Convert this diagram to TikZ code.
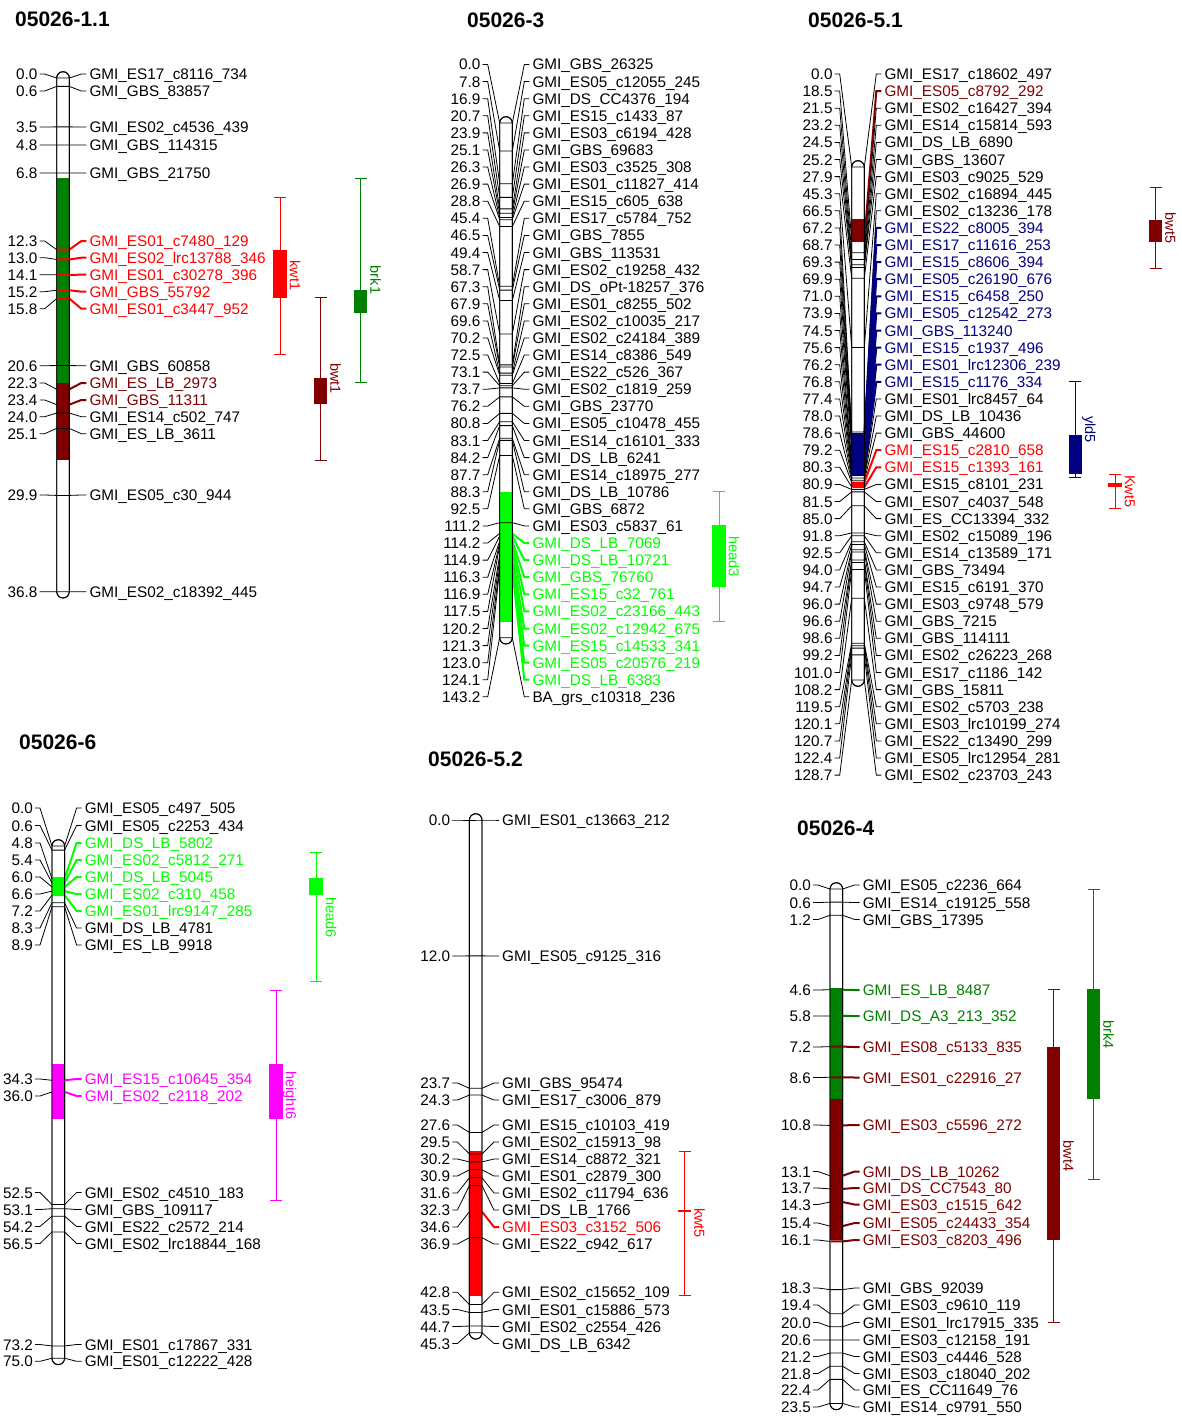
\documentclass[tikz,border=0pt]{standalone}
\usepackage{fontspec}
\setmainfont{Liberation Sans}

\definecolor{qred}{RGB}{255,0,0}
\definecolor{qdkred}{RGB}{128,0,0}
\definecolor{qdkgreen}{RGB}{0,128,0}
\definecolor{qlime}{RGB}{0,255,0}
\definecolor{qnavy}{RGB}{0,0,128}
\definecolor{qmag}{RGB}{255,0,255}

\newcommand\mkfont{\fontsize{15.3}{17}\selectfont}
\newcommand\ttlfont{\fontsize{21}{24}\selectfont\bfseries}
\newcommand\qfont{\fontsize{14.5}{16}\selectfont}
\def\blackname{black}

\newcommand\chrom[3]{\filldraw[fill=white,barline] ({#1-6.3},{#2-6.3}) rectangle ({#1+6.3},{#3+6.3});}
\newcommand\chromseg[4]{\fill[#4] ({#1-6.3},#2) rectangle ({#1+6.3},#3);}
\newcommand\chromline[3]{\draw[barline] ({#1-6.3},{#2-6.3}) rectangle ({#1+6.3},{#3+6.3});}

\newcommand\markers[5]{%
  \foreach \cm/\ly/\nm/\cl [count=\i] in {#4}{%
    \pgfmathsetmacro\ya{#2+#3*\cm}%
    \node[cmlab] (#5p\i) at ({#1-25.3},\ly) {\cm};
    \node[mklab,text=\cl] (#5m\i) at ({#1+26.3},\ly) {\nm};
    \coordinate (#5l\i) at ({#1-6.3},\ya);
    \coordinate (#5r\i) at ({#1+6.3},\ya);
    \draw[mkline] ([xshift=2pt]#5p\i.east) -- ++(5,0) -- (#5l\i);
    \ifx\cl\blackname
      \draw[mkline] (#5l\i) -- (#5r\i) -- ([xshift=-8pt]#5m\i.west) -- ([xshift=-3pt]#5m\i.west);
    \else
      \draw[hotline,\cl] ([xshift=1pt]#5l\i) -- (#5r\i) -- ([xshift=-8pt]#5m\i.west) -- ([xshift=-3pt]#5m\i.west);
    \fi
  }}

\newcommand\qtl[7]{%
  \draw[qline,#6] ({#1-6},#2) -- ({#1+6},#2) (#1,#2) -- (#1,#3) ({#1-6},#3) -- ({#1+6},#3);
  \fill[#6] ({#1-6.7},#4) rectangle ({#1+6.7},#5);
  \node[qlab,text=#6] (q-#7) at ({#1+9.7},{(#2+#3)/2}) {#7};}

\begin{document}
\begin{tikzpicture}[x=1pt,y=-1pt,
  barline/.style={draw=black,line width=0.9pt,rounded corners=6.3pt},
  mkline/.style={black,line width=0.8pt},
  hotline/.style={line width=2pt},
  qline/.style={line width=0.9pt},
  cmlab/.style={anchor=east,inner sep=0pt,text height=11pt,text depth=0pt,font=\mkfont},
  mklab/.style={anchor=west,inner sep=0pt,text height=11pt,text depth=0pt,font=\mkfont},
  qlab/.style={rotate=-90,anchor=south,inner sep=0pt,text height=10.4pt,text depth=0pt,font=\qfont},
  ttl/.style={anchor=west,inner sep=0pt,text height=15pt,text depth=0pt,font=\ttlfont}]
  \fill[white] (0,0) rectangle (1182,1418);
  \useasboundingbox (0,0) rectangle (1182,1418);

  \node[ttl] (t11) at (15,19) {05026-1.1};
  \chrom{63}{78}{591.7}
  \chromseg{63}{178}{382.7}{qdkgreen}
  \chromseg{63}{382.7}{460}{qdkred}
  \markers{63}{78}{13.96}{0.0/74/GMI\_ES17\_c8116\_734/black,
    0.6/91/GMI\_GBS\_83857/black,
    3.5/127/GMI\_ES02\_c4536\_439/black,
    4.8/145/GMI\_GBS\_114315/black,
    6.8/173/GMI\_GBS\_21750/black,
    12.3/241/GMI\_ES01\_c7480\_129/qred,
    13.0/257.7/GMI\_ES02\_lrc13788\_346/qred,
    14.1/274.7/GMI\_ES01\_c30278\_396/qred,
    15.2/291.7/GMI\_GBS\_55792/qred,
    15.8/308.7/GMI\_ES01\_c3447\_952/qred,
    20.6/365.7/GMI\_GBS\_60858/black,
    22.3/383/GMI\_ES\_LB\_2973/qdkred,
    23.4/400/GMI\_GBS\_11311/qdkred,
    24.0/416.7/GMI\_ES14\_c502\_747/black,
    25.1/433.7/GMI\_ES\_LB\_3611/black,
    29.9/495/GMI\_ES05\_c30\_944/black,
    36.8/591.7/GMI\_ES02\_c18392\_445/black}{ma}
  \chromline{63}{78}{591.7}
  \qtl{280}{197}{354}{250}{298}{qred}{kwt1}
  \qtl{320.5}{297}{460}{378}{404}{qdkred}{bwt1}
  \qtl{360.5}{178}{382}{290}{313}{qdkgreen}{brk1}

  \node[ttl] (t3) at (467,20) {05026-3};
  \chrom{506}{123}{637.7}
  \chromseg{506}{491.7}{621.7}{qlime}
  \markers{506}{123}{3.594}{0.0/64.5/GMI\_GBS\_26325/black,
    7.8/81.6/GMI\_ES05\_c12055\_245/black,
    16.9/98.7/GMI\_DS\_CC4376\_194/black,
    20.7/115.8/GMI\_ES15\_c1433\_87/black,
    23.9/132.9/GMI\_ES03\_c6194\_428/black,
    25.1/150.0/GMI\_GBS\_69683/black,
    26.3/167.0/GMI\_ES03\_c3525\_308/black,
    26.9/184.1/GMI\_ES01\_c11827\_414/black,
    28.8/201.2/GMI\_ES15\_c605\_638/black,
    45.4/218.3/GMI\_ES17\_c5784\_752/black,
    46.5/235.4/GMI\_GBS\_7855/black,
    49.4/252.5/GMI\_GBS\_113531/black,
    58.7/269.6/GMI\_ES02\_c19258\_432/black,
    67.3/286.7/GMI\_DS\_oPt-18257\_376/black,
    67.9/303.8/GMI\_ES01\_c8255\_502/black,
    69.6/320.9/GMI\_ES02\_c10035\_217/black,
    70.2/337.9/GMI\_ES02\_c24184\_389/black,
    72.5/355.0/GMI\_ES14\_c8386\_549/black,
    73.1/372.1/GMI\_ES22\_c526\_367/black,
    73.7/389.2/GMI\_ES02\_c1819\_259/black,
    76.2/406.3/GMI\_GBS\_23770/black,
    80.8/423.4/GMI\_ES05\_c10478\_455/black,
    83.1/440.5/GMI\_ES14\_c16101\_333/black,
    84.2/457.6/GMI\_DS\_LB\_6241/black,
    87.7/474.7/GMI\_ES14\_c18975\_277/black,
    88.3/491.8/GMI\_DS\_LB\_10786/black,
    92.5/508.8/GMI\_GBS\_6872/black,
    111.2/525.9/GMI\_ES03\_c5837\_61/black,
    114.2/543.0/GMI\_DS\_LB\_7069/qlime,
    114.9/560.1/GMI\_DS\_LB\_10721/qlime,
    116.3/577.2/GMI\_GBS\_76760/qlime,
    116.9/594.3/GMI\_ES15\_c32\_761/qlime,
    117.5/611.4/GMI\_ES02\_c23166\_443/qlime,
    120.2/628.5/GMI\_ES02\_c12942\_675/qlime,
    121.3/645.6/GMI\_ES15\_c14533\_341/qlime,
    123.0/662.7/GMI\_ES05\_c20576\_219/qlime,
    124.1/679.7/GMI\_DS\_LB\_6383/qlime,
    143.2/696.8/BA\_grs\_c10318\_236/black}{mb}
  \chromline{506}{123}{637.7}
  \qtl{719}{491.7}{621.7}{525}{586.7}{qlime}{head3}

  \node[ttl] (t51) at (808,20) {05026-5.1};
  \chrom{858}{167}{680}
  \chromseg{858}{219.3}{241.7}{qdkred}
  \chromseg{858}{433}{475}{qnavy}
  \chromseg{858}{481.7}{487.3}{qred}
  \markers{858}{167}{3.986}{0.0/74/GMI\_ES17\_c18602\_497/black,
    18.5/91.1/GMI\_ES05\_c8792\_292/qdkred,
    21.5/108.2/GMI\_ES02\_c16427\_394/black,
    23.2/125.3/GMI\_ES14\_c15814\_593/black,
    24.5/142.4/GMI\_DS\_LB\_6890/black,
    25.2/159.5/GMI\_GBS\_13607/black,
    27.9/176.6/GMI\_ES03\_c9025\_529/black,
    45.3/193.7/GMI\_ES02\_c16894\_445/black,
    66.5/210.8/GMI\_ES02\_c13236\_178/black,
    67.2/227.9/GMI\_ES22\_c8005\_394/qnavy,
    68.7/245.0/GMI\_ES17\_c11616\_253/qnavy,
    69.3/262.1/GMI\_ES15\_c8606\_394/qnavy,
    69.9/279.2/GMI\_ES05\_c26190\_676/qnavy,
    71.0/296.3/GMI\_ES15\_c6458\_250/qnavy,
    73.9/313.4/GMI\_ES05\_c12542\_273/qnavy,
    74.5/330.5/GMI\_GBS\_113240/qnavy,
    75.6/347.6/GMI\_ES15\_c1937\_496/qnavy,
    76.2/364.7/GMI\_ES01\_lrc12306\_239/qnavy,
    76.8/381.8/GMI\_ES15\_c1176\_334/qnavy,
    77.4/398.9/GMI\_ES01\_lrc8457\_64/black,
    78.0/416.0/GMI\_DS\_LB\_10436/black,
    78.6/433.1/GMI\_GBS\_44600/black,
    79.2/450.2/GMI\_ES15\_c2810\_658/qred,
    80.3/467.3/GMI\_ES15\_c1393\_161/qred,
    80.9/484.4/GMI\_ES15\_c8101\_231/black,
    81.5/501.5/GMI\_ES07\_c4037\_548/black,
    85.0/518.6/GMI\_ES\_CC13394\_332/black,
    91.8/535.7/GMI\_ES02\_c15089\_196/black,
    92.5/552.8/GMI\_ES14\_c13589\_171/black,
    94.0/569.9/GMI\_GBS\_73494/black,
    94.7/587.0/GMI\_ES15\_c6191\_370/black,
    96.0/604.1/GMI\_ES03\_c9748\_579/black,
    96.6/621.2/GMI\_GBS\_7215/black,
    98.6/638.3/GMI\_GBS\_114111/black,
    99.2/655.4/GMI\_ES02\_c26223\_268/black,
    101.0/672.5/GMI\_ES17\_c1186\_142/black,
    108.2/689.6/GMI\_GBS\_15811/black,
    119.5/706.7/GMI\_ES02\_c5703\_238/black,
    120.1/723.8/GMI\_ES03\_lrc10199\_274/black,
    120.7/740.9/GMI\_ES22\_c13490\_299/black,
    122.4/758.0/GMI\_ES05\_lrc12954\_281/black,
    128.7/775.1/GMI\_ES02\_c23703\_243/black}{mc}
  \chromline{858}{167}{680}
  \qtl{1155.5}{187.7}{268.3}{220}{241.7}{qdkred}{bwt5}
  \qtl{1075.3}{381.7}{477.7}{435}{474.3}{qnavy}{yld5}
  \qtl{1115}{474.3}{508.3}{482.7}{487.3}{qred}{Kwt5}

  \node[ttl] (t6) at (19,742) {05026-6};
  \chrom{58.3}{846}{1358.3}
  \chromseg{58.3}{877.3}{894.3}{qlime}
  \chromseg{58.3}{1064}{1119}{qmag}
  \markers{58.3}{846}{6.83}{0.0/808/GMI\_ES05\_c497\_505/black,
    0.6/825.5/GMI\_ES05\_c2253\_434/black,
    4.8/843/GMI\_DS\_LB\_5802/qlime,
    5.4/860/GMI\_ES02\_c5812\_271/qlime,
    6.0/877/GMI\_DS\_LB\_5045/qlime,
    6.6/894/GMI\_ES02\_c310\_458/qlime,
    7.2/911/GMI\_ES01\_lrc9147\_285/qlime,
    8.3/928/GMI\_DS\_LB\_4781/black,
    8.9/945/GMI\_ES\_LB\_9918/black,
    34.3/1079/GMI\_ES15\_c10645\_354/qmag,
    36.0/1096/GMI\_ES02\_c2118\_202/qmag,
    52.5/1192.5/GMI\_ES02\_c4510\_183/black,
    53.1/1209.5/GMI\_GBS\_109117/black,
    54.2/1226.5/GMI\_ES22\_c2572\_214/black,
    56.5/1243.5/GMI\_ES02\_lrc18844\_168/black,
    73.2/1344.5/GMI\_ES01\_c17867\_331/black,
    75.0/1361.3/GMI\_ES01\_c12222\_428/black}{md}
  \chromline{58.3}{846}{1358.3}
  \qtl{316}{852.7}{981.7}{878.3}{895}{qlime}{head6}
  \qtl{276}{990.7}{1200}{1064}{1119}{qmag}{height6}

  \node[ttl] (t52) at (428,759) {05026-5.2};
  \chrom{475.7}{820}{1332.8}
  \chromseg{475.7}{1151}{1296}{qred}
  \markers{475.7}{820}{11.32}{0.0/820/GMI\_ES01\_c13663\_212/black,
    12.0/956/GMI\_ES05\_c9125\_316/black,
    23.7/1083/GMI\_GBS\_95474/black,
    24.3/1100/GMI\_ES17\_c3006\_879/black,
    27.6/1125/GMI\_ES15\_c10103\_419/black,
    29.5/1142/GMI\_ES02\_c15913\_98/black,
    30.2/1159/GMI\_ES14\_c8872\_321/black,
    30.9/1176/GMI\_ES01\_c2879\_300/black,
    31.6/1193/GMI\_ES02\_c11794\_636/black,
    32.3/1210/GMI\_DS\_LB\_1766/black,
    34.6/1227/GMI\_ES03\_c3152\_506/qred,
    36.9/1244/GMI\_ES22\_c942\_617/black,
    42.8/1292.3/GMI\_ES02\_c15652\_109/black,
    43.5/1309.5/GMI\_ES01\_c15886\_573/black,
    44.7/1326.5/GMI\_ES02\_c2554\_426/black,
    45.3/1343.5/GMI\_DS\_LB\_6342/black}{me}
  \chromline{475.7}{820}{1332.8}
  \qtl{684.5}{1151}{1295}{1210}{1211.5}{qred}{kwt5}

  \node[ttl] (t4) at (797,828) {05026-4};
  \chrom{836.3}{889}{1403.4}
  \chromseg{836.3}{988.3}{1099.3}{qdkgreen}
  \chromseg{836.3}{1099.3}{1240}{qdkred}
  \markers{836.3}{889}{21.89}{0.0/885/GMI\_ES05\_c2236\_664/black,
    0.6/902.5/GMI\_ES14\_c19125\_558/black,
    1.2/919.5/GMI\_GBS\_17395/black,
    4.6/990/GMI\_ES\_LB\_8487/qdkgreen,
    5.8/1016/GMI\_DS\_A3\_213\_352/qdkgreen,
    7.2/1047/GMI\_ES08\_c5133\_835/qdkred,
    8.6/1077.5/GMI\_ES01\_c22916\_27/qdkred,
    10.8/1125/GMI\_ES03\_c5596\_272/qdkred,
    13.1/1171.5/GMI\_DS\_LB\_10262/qdkred,
    13.7/1188/GMI\_DS\_CC7543\_80/qdkred,
    14.3/1204.5/GMI\_ES03\_c1515\_642/qdkred,
    15.4/1223/GMI\_ES05\_c24433\_354/qdkred,
    16.1/1240/GMI\_ES03\_c8203\_496/qdkred,
    18.3/1288/GMI\_GBS\_92039/black,
    19.4/1305/GMI\_ES03\_c9610\_119/black,
    20.0/1322.5/GMI\_ES01\_lrc17915\_335/black,
    20.6/1340/GMI\_ES03\_c12158\_191/black,
    21.2/1356.5/GMI\_ES03\_c4446\_528/black,
    21.8/1373.5/GMI\_ES03\_c18040\_202/black,
    22.4/1390/GMI\_ES\_CC11649\_76/black,
    23.5/1407/GMI\_ES14\_c9791\_550/black}{mf}
  \chromline{836.3}{889}{1403.4}
  \qtl{1053.5}{989.3}{1322.7}{1046.7}{1240}{qdkred}{bwt4}
  \qtl{1093.5}{889.3}{1179.3}{989.3}{1099.3}{qdkgreen}{brk4}
\end{tikzpicture}
\end{document}
